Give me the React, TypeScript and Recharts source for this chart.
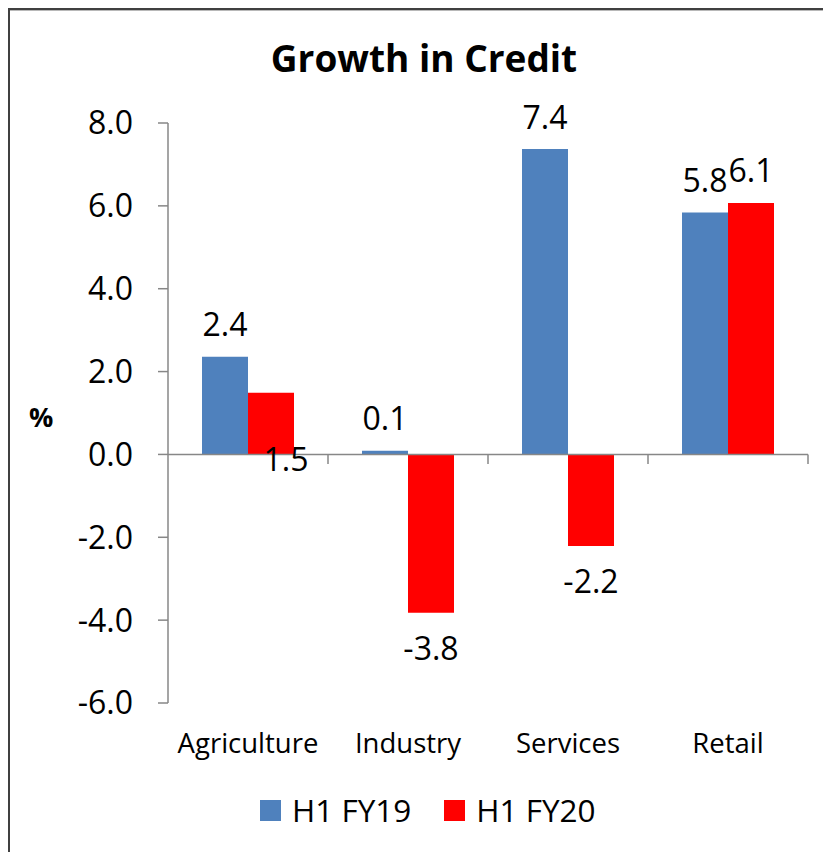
import React from 'react';
import { BarChart, Bar, XAxis, YAxis, ReferenceLine, LabelList, Legend } from 'recharts';

const categories = ['Agriculture', 'Industry', 'Services', 'Retail'];
const fy19 = [2.36, 0.09, 7.37, 5.84];
const fy20 = [1.49, -3.82, -2.21, 6.07];
const yTicks = [-6, -4, -2, 0, 2, 4, 6, 8];
const seriesNames = ['H1 FY19', 'H1 FY20'];
const seriesColors = ['#4F81BD', '#FF0000'];

const data = categories.map((c, i) => ({ category: c, fy19: fy19[i], fy20: fy20[i] }));

// category boundary ticks on the zero line: start of every band after the first, and the end of the last
const boundaries: { cat: string; pos: 'start' | 'end' }[] = [
  ...categories.slice(1).map((c) => ({ cat: c, pos: 'start' as const })),
  { cat: categories[categories.length - 1], pos: 'end' as const },
];

const FONT = '"Open Sans", "Noto Sans", sans-serif';
const AXIS = '#878787';

const makeLabel = (seriesKey: string) => (props: any) => {
  const { x, y, width, height, value, index } = props;
  const top = Math.min(y, y + height);
  const bottom = Math.max(y, y + height);
  let cx = x + width / 2;
  let cy = value >= 0 ? top - 33 : bottom + 35;
  if (seriesKey === 'fy20' && categories[index] === 'Agriculture') {
    cx += 15;
    cy = bottom + 4;
  }
  return (
    <text x={cx} y={cy} textAnchor="middle" dominantBaseline="central" fontSize={32} fill="#000" fontFamily={FONT}>
      {Number(value).toFixed(1)}
    </text>
  );
};

const LegendContent = () => (
  <div style={{ display: 'flex', alignItems: 'center', height: 42, paddingLeft: 250, fontFamily: FONT }}>
    {seriesNames.map((n, i) => (
      <div key={n} style={{ display: 'flex', alignItems: 'center', marginRight: 33 }}>
        <div style={{ width: 21, height: 21, background: seriesColors[i], marginRight: 11 }} />
        <span style={{ fontSize: 31.5, lineHeight: 1, color: '#000' }}>{n}</span>
      </div>
    ))}
  </div>
);

export default function App() {
  return (
    <div
      style={{
        position: 'relative',
        width: 821,
        height: 842,
        borderLeft: '2px solid #404040',
        borderTop: '2px solid #404040',
        boxShadow: 'inset 0 1px 0 #b8b8b8',
        fontFamily: FONT,
        background: '#fff',
      }}
    >
      <div
        style={{
          position: 'absolute',
          top: 29,
          left: 0,
          width: 828,
          textAlign: 'center',
          fontSize: 37,
          lineHeight: 1,
          fontWeight: 700,
          color: '#000',
        }}
      >
        Growth in Credit
      </div>
      <div
        style={{
          position: 'absolute',
          top: 393,
          left: 19,
          fontSize: 27,
          lineHeight: 1,
          fontWeight: 700,
          color: '#000',
        }}
      >
        %
      </div>
      <BarChart
        width={821}
        height={842}
        data={data}
        margin={{ top: 113, right: 23, left: 0, bottom: 89 }}
        barGap={0}
        barSize={46}
      >
        <XAxis
          dataKey="category"
          axisLine={false}
          tickLine={false}
          tickSize={0}
          tickMargin={30}
          height={60}
          interval={0}
          tick={{ fontSize: 27.5, fill: '#000', fontFamily: FONT }}
        />
        <YAxis
          type="number"
          domain={[-6, 8]}
          ticks={yTicks}
          interval={0}
          width={158}
          tickSize={10}
          tickMargin={25}
          tickFormatter={(v: number) => v.toFixed(1)}
          axisLine={{ stroke: AXIS, strokeWidth: 1.5 }}
          tickLine={{ stroke: AXIS, strokeWidth: 1.5 }}
          tick={{ fontSize: 32, fill: '#000', fontFamily: FONT }}
        />
        <ReferenceLine y={0} stroke={AXIS} strokeWidth={1.5} />
        {boundaries.map((b, i) => (
          <ReferenceLine
            key={i}
            position={b.pos}
            segment={[{ x: b.cat, y: 0 }, { x: b.cat, y: -0.23 }]}
            stroke={AXIS}
            strokeWidth={1.5}
            ifOverflow="visible"
          />
        ))}
        <Bar dataKey="fy19" name={seriesNames[0]} fill={seriesColors[0]} isAnimationActive={false}>
          <LabelList dataKey="fy19" content={makeLabel('fy19')} />
        </Bar>
        <Bar dataKey="fy20" name={seriesNames[1]} fill={seriesColors[1]} isAnimationActive={false}>
          <LabelList dataKey="fy20" content={makeLabel('fy20')} />
        </Bar>
        <Legend
          verticalAlign="middle"
          align="center"
          layout="horizontal"
          wrapperStyle={{ top: 779, left: 0, width: 821, height: 42 }}
          content={() => <LegendContent />}
        />
      </BarChart>
    </div>
  );
}
